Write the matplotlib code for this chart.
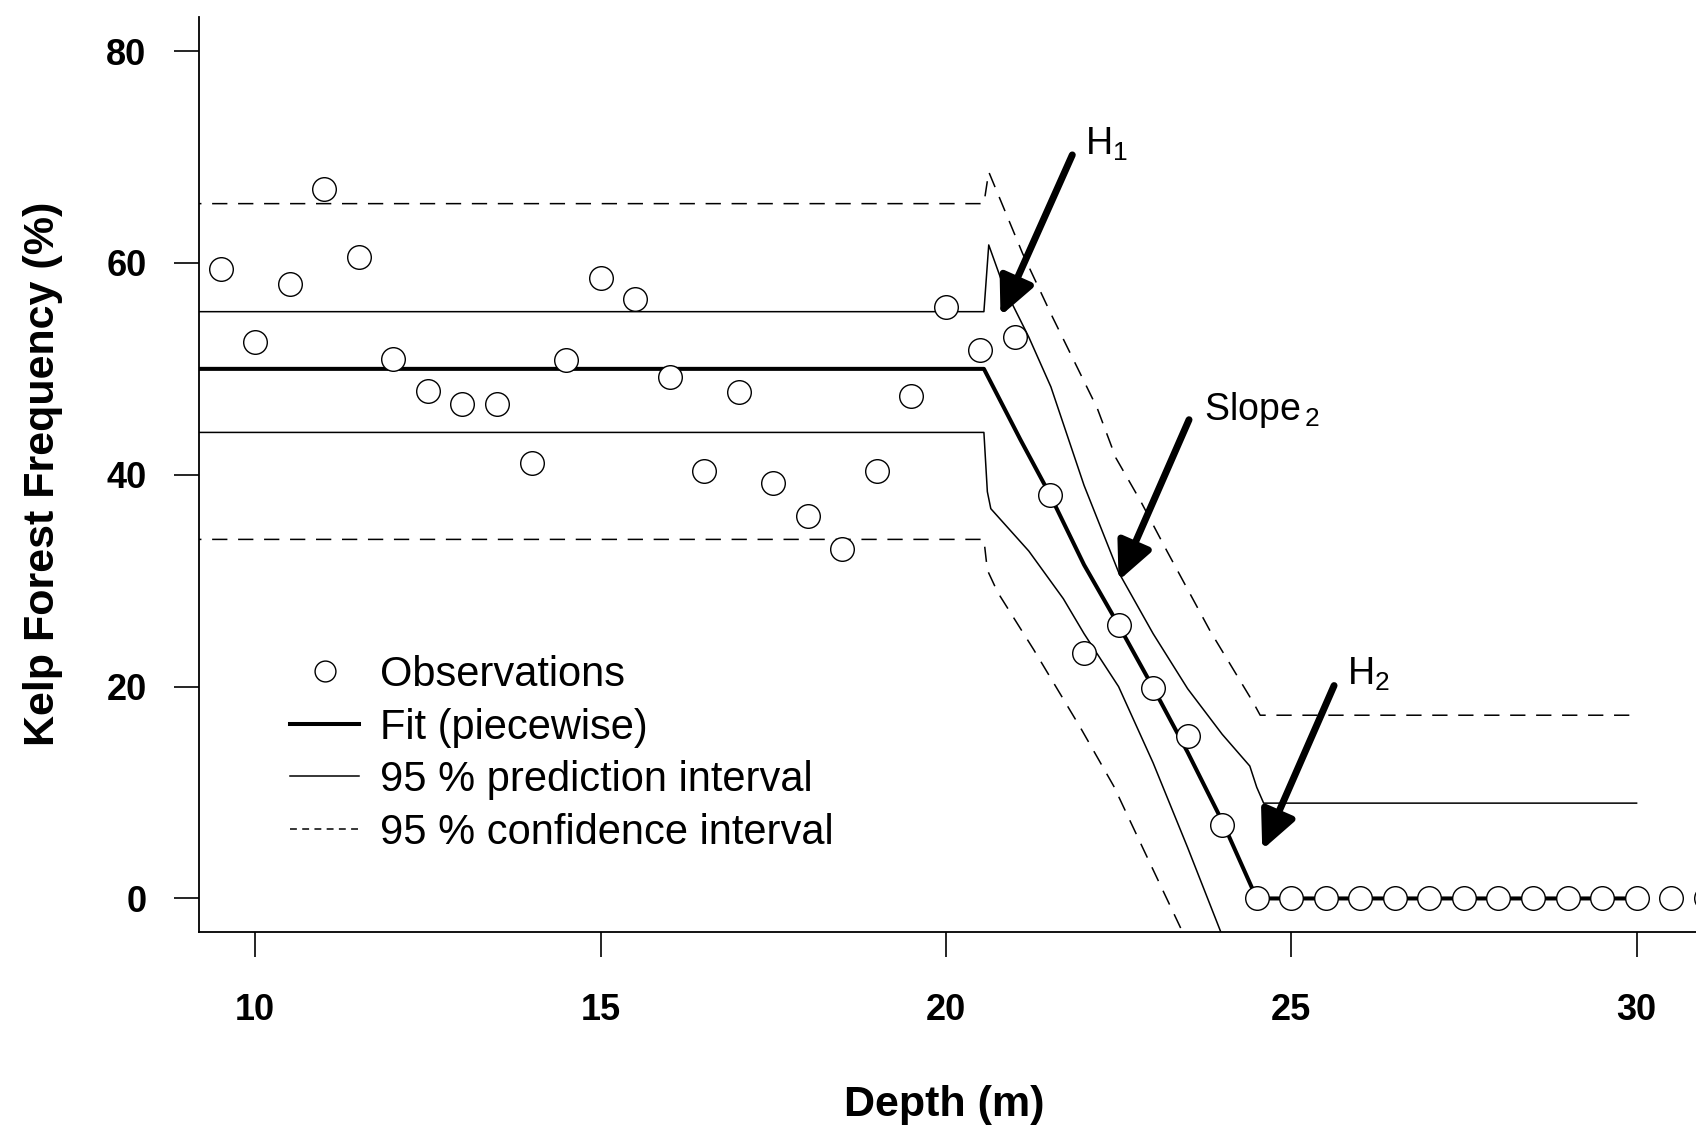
import matplotlib
matplotlib.use('Agg')
import matplotlib.pyplot as plt

plt.rcParams['font.family'] = ['Liberation Sans', 'DejaVu Sans']
plt.rcParams['mathtext.fontset'] = 'custom'
plt.rcParams['mathtext.rm'] = 'Liberation Sans'

# observations
depth = [9.5, 10.0, 10.5, 11.0, 11.5, 12.0, 12.5, 13.0, 13.5, 14.0,
         14.5, 15.0, 15.5, 16.0, 16.5, 17.0, 17.5, 18.0, 18.5, 19.0,
         19.5, 20.0, 20.5, 21.0, 21.5, 22.0, 22.5, 23.0, 23.5, 24.0,
         24.5, 25.0, 25.5, 26.0, 26.5, 27.0, 27.5, 28.0, 28.5, 29.0,
         29.5, 30.0, 30.5, 31.0]
kelp = [59.4, 52.5, 58.0, 67.0, 60.6, 50.9, 47.9, 46.7, 46.7, 41.1,
        50.8, 58.6, 56.6, 49.2, 40.4, 47.8, 39.2, 36.1, 33.0, 40.4,
        47.4, 55.8, 51.8, 53.0, 38.1, 23.2, 25.8, 19.9, 15.3, 6.9,
        0, 0, 0, 0, 0, 0, 0, 0, 0, 0,
        0, 0, 0, 0]

# piecewise fit
fit_x = [9.0, 20.55, 21.08, 21.5, 22.0, 22.5, 23.0, 23.5, 24.0, 24.5, 30.0]
fit_y = [50.0, 50.0, 43.3, 38.2, 31.5, 25.8, 19.9, 13.8, 7.3, 0.0, 0.0]

# 95 % prediction interval
pi_up_x = [9.0, 20.55, 20.62, 20.84, 21.2, 21.52, 22.0, 22.5, 23.0, 23.5,
           24.0, 24.4, 24.5, 24.6, 30.0]
pi_up_y = [55.4, 55.4, 61.7, 57.7, 53.0, 48.3, 39.0, 30.8, 25.0, 19.8,
           15.5, 12.5, 10.5, 9.0, 9.0]
pi_lo_x = [9.0, 20.55, 20.6, 20.65, 21.2, 21.7, 22.0, 22.5, 23.0, 23.5, 24.0, 24.5]
pi_lo_y = [44.0, 44.0, 38.4, 36.8, 32.8, 28.3, 25.0, 20.0, 12.8, 4.8, -3.5, -12.0]

# 95 % confidence interval
ci_up_x = [9.0, 20.55, 20.62, 21.11, 21.52, 22.19, 22.46, 22.82, 23.2, 23.83,
           24.45, 24.55, 30.0]
ci_up_y = [65.6, 65.6, 68.6, 60.9, 55.2, 46.3, 41.6, 37.5, 32.8, 25.2,
           18.5, 17.3, 17.3]
ci_lo_x = [9.0, 20.55, 20.6, 20.75, 21.27, 21.95, 22.43, 22.87, 23.45, 24.0]
ci_lo_y = [33.9, 33.9, 31.0, 28.9, 23.5, 16.1, 10.6, 4.5, -3.5, -11.0]

# annotations: (label, text x, text y, arrow start, arrow tip)
notes = [
    (r'$\mathrm{H}_{\mathrm{1}}$', 22.02, 70.2, (21.83, 70.2), (20.79, 55.0)),
    (r'$\mathrm{Slope}_{\,\mathrm{2}}$', 23.74, 45.2, (23.52, 45.2), (22.50, 30.0)),
    (r'$\mathrm{H}_{\mathrm{2}}$', 25.81, 20.2, (25.62, 20.1), (24.58, 4.6)),
]

fig = plt.figure(figsize=(16.96, 11.33), dpi=100)
ax = fig.add_axes([0.1175, 0.1771, 0.8825, 0.8077])

dash = (0, (10.0, 7.0))
ax.plot(ci_up_x, ci_up_y, color='black', lw=1.1, linestyle=dash)
ax.plot(ci_lo_x, ci_lo_y, color='black', lw=1.1, linestyle=dash)
ax.plot(pi_up_x, pi_up_y, color='black', lw=1.1)
ax.plot(pi_lo_x, pi_lo_y, color='black', lw=1.1)
ax.plot(fit_x, fit_y, color='black', lw=2.9)
ax.plot(depth, kelp, linestyle='none', marker='o', markersize=17,
        markerfacecolor='white', markeredgecolor='black', markeredgewidth=1.0,
        zorder=3)

for label, tx, ty, start, tip in notes:
    ax.annotate('', xy=tip, xytext=start,
                arrowprops=dict(arrowstyle='-|>,head_length=0.85,head_width=0.4',
                                mutation_scale=27, lw=5, color='black',
                                shrinkA=0, shrinkB=0), zorder=4)
    ax.text(tx, ty, label, fontsize=27, ha='left', va='baseline')

ax.set_xlim(9.19, 30.86)
ax.set_ylim(-3.2, 83.2)
ax.set_xticks([10, 15, 20, 25, 30])
ax.set_yticks([0, 20, 40, 60, 80])
for lab in ax.get_xticklabels() + ax.get_yticklabels():
    lab.set_fontweight('bold')
    lab.set_fontsize(26)
ax.tick_params(direction='out', length=18, width=1.2)
ax.tick_params(axis='x', pad=26)
ax.tick_params(axis='y', pad=20)
ax.spines['top'].set_visible(False)
ax.spines['right'].set_visible(False)
ax.spines['left'].set_linewidth(1.3)
ax.spines['bottom'].set_linewidth(1.3)

fig.text(944 / 1696, 1 - 1105 / 1133, 'Depth (m)', fontsize=31,
         fontweight='bold', ha='center', va='center')
fig.text(43 / 1696, 1 - 474 / 1133, 'Kelp Forest Frequency (%)', fontsize=31,
         fontweight='bold', ha='center', va='center', rotation=90)

h_obs, = ax.plot([], [], linestyle='none', marker='o', markersize=15,
                 markerfacecolor='white', markeredgecolor='black', markeredgewidth=1.0)
h_fit, = ax.plot([], [], color='black', lw=2.9)
h_pi, = ax.plot([], [], color='black', lw=1.1)
h_ci, = ax.plot([], [], color='black', lw=1.1, linestyle=(0, (4.5, 3.5)))
ax.legend([h_obs, h_fit, h_pi, h_ci],
          ['Observations', 'Fit (piecewise)', '95 % prediction interval',
           '95 % confidence interval'],
          loc='upper left', bbox_to_anchor=(290 / 1696, 1 - 655 / 1133),
          bbox_transform=fig.transFigure, frameon=False, borderpad=0,
          borderaxespad=0, handlelength=1.66, handletextpad=0.5,
          labelspacing=0.30, fontsize=30)

fig.savefig('out.png', dpi=100)
